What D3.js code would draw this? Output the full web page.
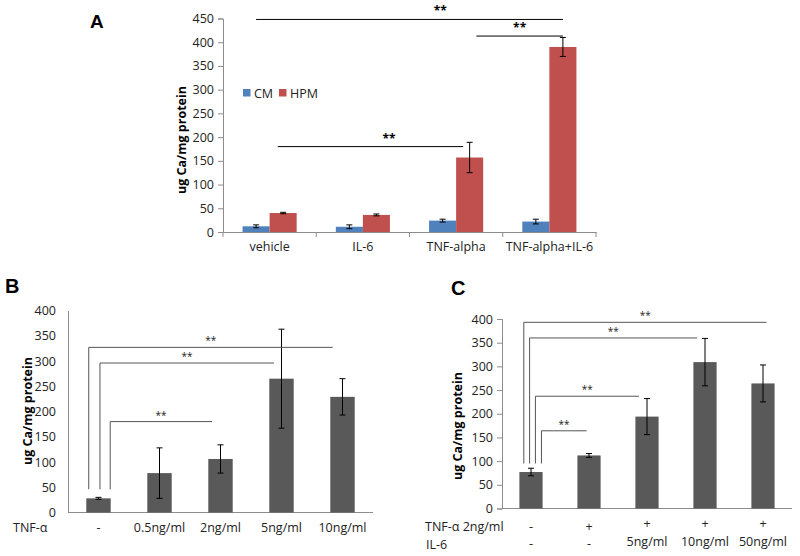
<!DOCTYPE html>
<html><head><meta charset="utf-8">
<script src="https://cdn.jsdelivr.net/npm/d3@7"></script>
<style>body{margin:0;background:#fff}svg{display:block;font-family:"Open Sans",sans-serif}</style>
</head><body>
<svg id="c" width="800" height="556"></svg>
<script>
// ---------- Panel A data ----------
const aCategories = ["vehicle", "IL-6", "TNF-alpha", "TNF-alpha+IL-6"];
const aSeries = ["CM", "HPM"];
const aCM = [12, 11, 24, 22];
const aCMerr = [3, 4, 3, 5];
const aHPM = [40, 36, 157, 390];
const aHPMerr = [1.5, 2, 32, 20];
const aTicks = [0, 50, 100, 150, 200, 250, 300, 350, 400, 450];
// significance lines: [from category, from series, to category, to series, level]
const aSig = [[0, 0, 3, 1, 448], [2, 1, 3, 1, 413], [0, 1, 2, 1, 180]];

// ---------- Panel B data ----------
const bCategories = ["-", "0.5ng/ml", "2ng/ml", "5ng/ml", "10ng/ml"];
const bValues = [28, 78, 106, 265, 229];
const bErr = [2, 50, 28, 98, 36];
const bTicks = [0, 50, 100, 150, 200, 250, 300, 350, 400];
// [from, to, level, bottom]
const bSig = [[0, 4, 327, 46], [0, 3, 296, 46], [0, 2, 180, 46]];

// ---------- Panel C data ----------
const cTNF = ["-", "+", "+", "+", "+"];
const cIL6 = ["-", "-", "5ng/ml", "10ng/ml", "50ng/ml"];
const cValues = [77, 112, 194, 309, 264];
const cErr = [8, 4, 38, 50, 39];
const cTicks = [0, 50, 100, 150, 200, 250, 300, 350, 400];
const cSig = [[0, 4, 393, 95], [0, 3, 360, 95], [0, 2, 237, 95], [0, 1, 164, 95]];

const svg = d3.select("#c");
const FONT = "Open Sans, sans-serif";
const AXIS = "#8c8c8c";

function errBar(g, x, y0, y1, cap) {
  g.append("line").attr("x1", x).attr("x2", x).attr("y1", y0).attr("y2", y1).attr("stroke", "#000").attr("stroke-width", 1);
  [y0, y1].forEach(v => g.append("line").attr("x1", x - cap).attr("x2", x + cap).attr("y1", v).attr("y2", v).attr("stroke", "#000").attr("stroke-width", 1));
}

// ================= Panel A =================
(function () {
  const g = svg.append("g");
  const y = d3.scaleLinear().domain([0, 450]).range([232, 18.5]);
  const x0 = d3.scaleBand().domain(aCategories).range([223, 596]);
  const bw = x0.bandwidth();
  const x1 = d3.scaleBand().domain(aSeries).range([bw * 0.21, bw * 0.79]);
  const colors = { CM: "#4f81bd", HPM: "#c0504d" };
  const vals = { CM: aCM, HPM: aHPM };
  const errs = { CM: aCMerr, HPM: aHPMerr };

  // y axis
  const ya = g.append("g").attr("transform", "translate(223,0)")
    .call(d3.axisLeft(y).tickValues(aTicks).tickSize(5).tickPadding(4));
  ya.select(".domain").attr("stroke", AXIS);
  ya.selectAll(".tick line").attr("stroke", AXIS);
  ya.selectAll("text").attr("font-size", 12.5).attr("font-family", FONT).attr("fill", "#222");

  // x axis
  const xa = g.append("g").attr("transform", "translate(0,232)")
    .call(d3.axisBottom(x0).tickSize(0).tickPadding(10));
  xa.select(".domain").attr("stroke", AXIS);
  xa.selectAll("text").attr("font-size", 12.5).attr("font-family", FONT).attr("fill", "#222");
  const bounds = aCategories.map(c => x0(c)).concat([x0(aCategories[3]) + bw]);
  g.selectAll(".sep").data(bounds).enter().append("line")
    .attr("x1", d => d).attr("x2", d => d).attr("y1", 232).attr("y2", 237).attr("stroke", AXIS);

  aSeries.forEach(s => {
    aCategories.forEach((c, i) => {
      const bx = x0(c) + x1(s);
      g.append("rect").attr("x", bx).attr("width", x1.bandwidth())
        .attr("y", y(vals[s][i])).attr("height", y(0) - y(vals[s][i])).attr("fill", colors[s]);
    });
  });
  aSeries.forEach(s => {
    aCategories.forEach((c, i) => {
      const cx = x0(c) + x1(s) + x1.bandwidth() / 2;
      errBar(g, cx, y(vals[s][i] + errs[s][i]), y(vals[s][i] - errs[s][i]), 3);
    });
  });

  // significance lines
  const sx = (ci, si, f) => x0(aCategories[ci]) + x1(aSeries[si]) + x1.bandwidth() * f;
  const aFrac = [[0.5, 0.5, 0.6], [0.75, 0.5, 0.5], [0.3, 0.26, 0.6]];
  aSig.forEach((d, k) => {
    const xa1 = sx(d[0], d[1], aFrac[k][0]), xa2 = sx(d[2], d[3], aFrac[k][1]);
    g.append("line").attr("x1", xa1).attr("x2", xa2).attr("y1", y(d[4])).attr("y2", y(d[4])).attr("stroke", "#000");
    g.append("text").attr("x", xa1 + (xa2 - xa1) * aFrac[k][2]).attr("y", y(d[4]) - 4)
      .attr("text-anchor", "middle").attr("font-size", 12).attr("font-weight", "bold").attr("font-family", FONT).text("**");
  });

  // legend
  const lg = g.append("g");
  const legX = [243, 279];
  aSeries.forEach((s, i) => {
    lg.append("rect").attr("x", legX[i]).attr("y", 89).attr("width", 7.5).attr("height", 7.5).attr("fill", colors[s]);
    lg.append("text").attr("x", legX[i] + 11).attr("y", 97.5).attr("font-size", 12.5).attr("font-family", FONT).attr("fill", "#222").text(s);
  });

  g.append("text").attr("transform", "translate(186,140) rotate(-90)").attr("text-anchor", "middle")
    .attr("font-size", 12.5).attr("font-weight", "bold").attr("font-family", FONT).text("ug Ca/mg protein");
  g.append("text").attr("x", 90).attr("y", 28).attr("font-size", 19).attr("font-weight", "bold").attr("font-family", "Liberation Sans, Arial, sans-serif").text("A");
})();

// ================= Panels B and C (single-series) =================
function singlePanel(opt) {
  const g = svg.append("g");
  const y = d3.scaleLinear().domain([0, 400]).range([opt.y0, opt.y400]);
  const x = d3.scaleBand().domain(d3.range(opt.values.length)).range([opt.xl, opt.xr]).paddingInner(0.6).paddingOuter(0.3);
  const ya = g.append("g").attr("transform", `translate(${opt.xl},0)`)
    .call(d3.axisLeft(y).tickValues(opt.ticks).tickSize(opt.tick).tickPadding(opt.tick ? 4 : 12));
  ya.select(".domain").attr("stroke", AXIS);
  ya.selectAll(".tick line").attr("stroke", AXIS);
  ya.selectAll("text").attr("font-size", 12.5).attr("font-family", FONT).attr("fill", "#222");
  g.append("line").attr("x1", opt.xl).attr("x2", opt.xr).attr("y1", opt.y0).attr("y2", opt.y0).attr("stroke", AXIS);

  opt.values.forEach((v, i) => {
    g.append("rect").attr("x", x(i)).attr("width", x.bandwidth()).attr("y", y(v)).attr("height", y(0) - y(v)).attr("fill", "#595959");
  });
  opt.values.forEach((v, i) => {
    errBar(g, x(i) + x.bandwidth() / 2, y(v + opt.err[i]), y(v - opt.err[i]), 3);
  });
  opt.sig.forEach((d, k) => {
    const xs = x(d[0]) + x.bandwidth() * opt.startFrac[k];
    const xe = x(d[1]) + x.bandwidth() * opt.endFrac[k];
    g.append("path").attr("d", `M${xs},${y(d[3])}V${y(d[2])}H${xe}`).attr("fill", "none").attr("stroke", "#555").attr("stroke-width", 1);
    g.append("text").attr("x", (xs + xe) / 2).attr("y", y(d[2]) - 3).attr("text-anchor", "middle")
      .attr("font-size", 10).attr("font-family", FONT).attr("fill", "#222").text("**");
  });
  g.append("text").attr("transform", `translate(${opt.labX},${opt.labY}) rotate(-90)`).attr("text-anchor", "middle")
    .attr("font-size", 12.5).attr("font-weight", "bold").attr("font-family", FONT).text("ug Ca/mg protein");
  g.append("text").attr("x", opt.letterX).attr("y", opt.letterY).attr("font-size", 20).attr("font-weight", "bold")
    .attr("font-family", "Liberation Sans, Arial, sans-serif").text(opt.letter);
  return { g, x };
}

(function () {
  const p = singlePanel({ values: bValues, err: bErr, ticks: bTicks, sig: bSig, xl: 68, xr: 373, y0: 512.5, y400: 310.5, tick: 0,
    startFrac: [0.1, 0.56, 0.98], endFrac: [0.1, 0.19, 0.15], labX: 32, labY: 411, letter: "B", letterX: 5, letterY: 293 });
  bCategories.forEach((c, i) => {
    p.g.append("text").attr("x", p.x(i) + p.x.bandwidth() / 2).attr("y", 532).attr("text-anchor", "middle")
      .attr("font-size", 12.5).attr("font-family", FONT).attr("fill", "#222").text(c);
  });
  p.g.append("text").attr("x", 13).attr("y", 532).attr("font-size", 12.5).attr("font-family", FONT).attr("fill", "#222").text("TNF-α");
})();

(function () {
  const p = singlePanel({ values: cValues, err: cErr, ticks: cTicks, sig: cSig, xl: 502, xr: 792, y0: 508.5, y400: 319, tick: 5,
    startFrac: [0.19, 0.44, 0.69, 0.95], endFrac: [0.65, 0.16, 0.15, 0.4], labX: 462, labY: 426, letter: "C", letterX: 451, letterY: 295 });
  cTNF.forEach((c, i) => {
    const cx = p.x(i) + p.x.bandwidth() / 2;
    const two = cIL6[i] !== "-";
    p.g.append("text").attr("x", cx).attr("y", two ? 528 : 531).attr("text-anchor", "middle")
      .attr("font-size", 12.5).attr("font-family", FONT).attr("fill", "#222").text(c);
    p.g.append("text").attr("x", cx).attr("y", two ? 546 : 548).attr("text-anchor", "middle")
      .attr("font-size", 12.5).attr("font-family", FONT).attr("fill", "#222").text(cIL6[i]);
  });
  p.g.append("text").attr("x", 425).attr("y", 531).attr("font-size", 12.5).attr("font-family", FONT).attr("fill", "#222").text("TNF-α 2ng/ml");
  p.g.append("text").attr("x", 426).attr("y", 549).attr("font-size", 12.5).attr("font-family", FONT).attr("fill", "#222").text("IL-6");
})();
</script>
</body></html>
